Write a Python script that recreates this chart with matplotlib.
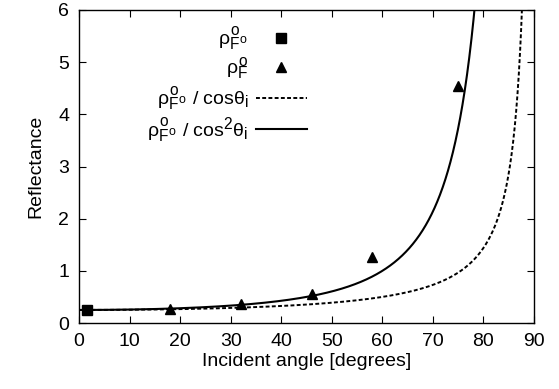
import numpy as np
import matplotlib
matplotlib.use("Agg")
import matplotlib.pyplot as plt
try:
    import matplotlib._mathtext as _mt
    _mt.SHRINK_FACTOR = 0.8
except Exception:
    pass

plt.rcParams['font.family'] = ['Liberation Sans', 'DejaVu Sans']
plt.rcParams['mathtext.fontset'] = 'custom'
plt.rcParams['mathtext.rm'] = 'Liberation Sans'
plt.rcParams['mathtext.it'] = 'Liberation Sans'
plt.rcParams['mathtext.bf'] = 'Liberation Sans:bold'

# data
normal_angle = [1.5]
normal_refl = [0.24]
meas_angles = [18, 32, 46, 58, 75]
meas_refl = [0.27, 0.36, 0.56, 1.27, 4.55]
rho0 = 0.25  # normal-incidence reflectance used by the model curves
xticks = [0, 10, 20, 30, 40, 50, 60, 70, 80, 90]
yticks = [0, 1, 2, 3, 4, 5, 6]

fig = plt.figure(figsize=(5.59, 3.89), dpi=100)
ax = fig.add_axes([79/559, 1-323/389, (534-79)/559, (323-10)/389])

th = np.linspace(0, 89.5, 2000)
c = np.cos(np.radians(th))

ax.plot(normal_angle, normal_refl, 's', color='black', ms=7.5, label=r'$\rho^{o}_{F^{o}}$', zorder=5)
ax.plot(meas_angles, meas_refl, '^', color='black', ms=6.5, label=r'$\rho^{o}_{F}$', zorder=5)
ax.plot(th, rho0 / c, color='black', lw=1.4, ls=(0, (2, 1.2)),
        label=r'$\rho^{o}_{F^{o}}$ / cos$\theta_{i}$')
ax.plot(th, rho0 / c**2, color='black', lw=1.5,
        label=r'$\rho^{o}_{F^{o}}$ / cos$^{2}\theta_{i}$')

ax.set_xlim(0, 90)
ax.set_ylim(0, 6)
ax.set_xticks(xticks)
ax.set_yticks(yticks)
ax.tick_params(direction='in', top=True, right=True, labelsize=14, length=5, width=0.8, pad=7)
for s in ax.spines.values():
    s.set_linewidth(1.0)
ax.set_xlabel('Incident angle [degrees]', fontsize=14, labelpad=2)
ax.set_ylabel('Reflectance', fontsize=14, labelpad=10)

leg = ax.legend(loc='upper right', bbox_to_anchor=(0.53, 0.997), frameon=False,
                markerfirst=False, fontsize=14, handlelength=2.6, handletextpad=0.4,
                labelspacing=0.12, borderpad=0.2)
for t in leg.get_texts():
    t.set_ha('right')

fig.savefig('out.png', dpi=100)
